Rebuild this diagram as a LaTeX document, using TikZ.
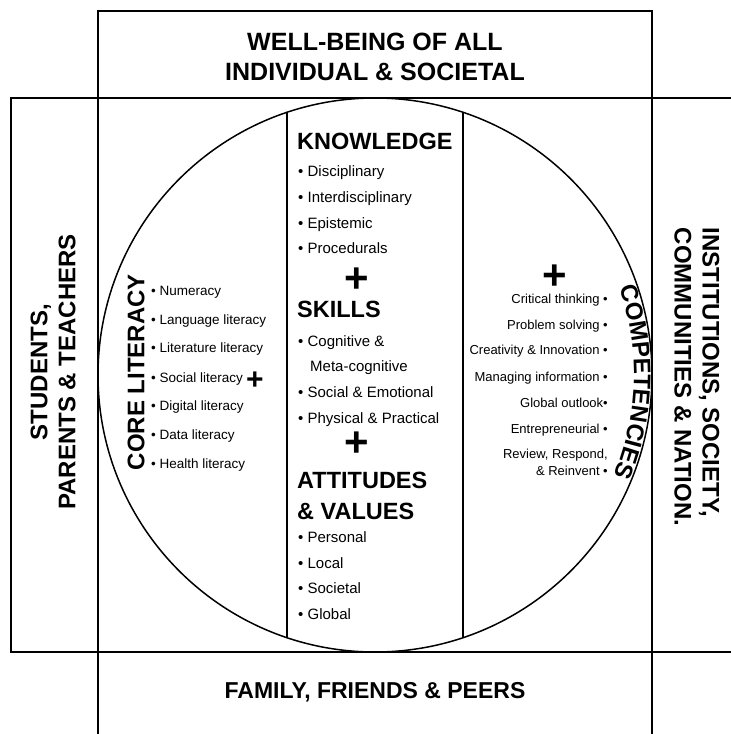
\documentclass[tikz,border=0pt]{standalone}
\usepackage{fontspec}
\setmainfont{Liberation Sans}
\usetikzlibrary{calc,decorations.text}
\tikzset{
	frameline/.style={line width=1.5pt},
	heading/.style={font=\fontsize{24}{28}\selectfont\bfseries, inner sep=0pt, align=center},
	coltitle/.style={font=\fontsize{23.5}{28}\selectfont\bfseries, inner sep=0pt, anchor=base west},
	midpoint/.style={font=\fontsize{15}{18}\selectfont, inner sep=0pt, anchor=base west},
	litpoint/.style={font=\fontsize{13.5}{16}\selectfont, inner sep=0pt, anchor=base west},
	comppoint/.style={font=\fontsize{13}{16}\selectfont, inner sep=0pt, anchor=base east},
	plussign/.style={font=\fontsize{42}{42}\selectfont\bfseries, inner sep=0pt}
}
\begin{document}
\begin{tikzpicture}[x=1pt, y=1pt]
		%%%%% START %%%%%
		\useasboundingbox (0,0) rectangle (731,-734);
		\fill[white] (0,0) rectangle (731,-734);
		
		\draw[frameline] (98,-11) rectangle (652,-98);
		\draw[frameline] (11,-98) rectangle (745,-652);
		\draw[frameline] (98,-652) rectangle (652,-750);
		\draw[frameline] (98,-98) -- (98,-652);
		\draw[frameline] (652,-98) -- (652,-652);
		
		\coordinate (hub) at (375,-375);
		\draw[frameline] (hub) circle (277);
		\draw[frameline] (287,-112.4) -- (287,-637.6);
		\draw[frameline] (463,-112.4) -- (463,-637.6);
		
		\node[heading, font=\fontsize{25}{30}\selectfont\bfseries] (wellbeing) at (375,-57) {WELL-BEING OF ALL\\INDIVIDUAL \& SOCIETAL};
		\node[heading, rotate=90] (students) at (53,-372) {STUDENTS,\\PARENTS \& TEACHERS};
		\node[heading, rotate=-90, align=left] (institutions) at (697,-377) {INSTITUTIONS, SOCIETY,\\COMMUNITIES \& NATION.};
		\node[heading, font=\fontsize{23}{28}\selectfont\bfseries] (family) at (375,-692) {FAMILY, FRIENDS \& PEERS};
		
		\node[heading, rotate=90] (coreliteracy) at (136,-372) {CORE LITERACY};
		\node[litpoint] (numeracy) at (151,-295) {• Numeracy};
		\node[litpoint] (language) at (151,-324) {• Language literacy};
		\node[litpoint] (literature) at (151,-352) {• Literature literacy};
		\node[litpoint] (social) at (151,-382) {• Social literacy};
		\node[litpoint] (digital) at (151,-410) {• Digital literacy};
		\node[litpoint] (data) at (151,-439) {• Data literacy};
		\node[litpoint] (health) at (151,-468) {• Health literacy};
		\node[plussign, font=\fontsize{30}{30}\selectfont\bfseries] (plusleft) at (255,-381) {+};
		
		\node[coltitle] (knowledge) at (297,-149) {KNOWLEDGE};
		\node[midpoint] (disciplinary) at (298,-176) {• Disciplinary};
		\node[midpoint] (interdisc) at (298,-202) {• Interdisciplinary};
		\node[midpoint] (epistemic) at (298,-228) {• Epistemic};
		\node[midpoint] (procedurals) at (298,-253) {• Procedurals};
		\node[plussign] (plusone) at (357,-280) {+};
		\node[coltitle] (skills) at (297,-317) {SKILLS};
		\node[midpoint] (cognitive) at (298,-346) {• Cognitive \&};
		\node[midpoint] (metacog) at (310,-371) {Meta-cognitive};
		\node[midpoint] (emotional) at (298,-397) {• Social \& Emotional};
		\node[midpoint] (practical) at (298,-423) {• Physical \& Practical};
		\node[plussign] (plustwo) at (357,-444) {+};
		\node[coltitle] (attitudes) at (297,-488) {ATTITUDES};
		\node[coltitle] (values) at (297,-519) {\& VALUES};
		\node[midpoint] (personal) at (298,-542) {• Personal};
		\node[midpoint] (local) at (298,-568) {• Local};
		\node[midpoint] (societal) at (298,-593) {• Societal};
		\node[midpoint] (global) at (298,-619) {• Global};
		
		\node[plussign] (plusright) at (555,-277) {+};
		\node[comppoint] (critical) at (608,-303) {Critical thinking •};
		\node[comppoint] (problem) at (608,-329) {Problem solving •};
		\node[comppoint] (creativity) at (608,-354) {Creativity \& Innovation •};
		\node[comppoint] (managing) at (608,-381) {Managing information •};
		\node[comppoint] (outlook) at (608,-407) {Global outlook•};
		\node[comppoint] (entrepreneur) at (608,-433) {Entrepreneurial •};
		\node[comppoint] (review) at (608,-458) {Review, Respond,};
		\node[comppoint] (reinvent) at (608,-475) {\& Reinvent •};
		\path[decorate, decoration={text along path, text align=center,
			text={|\fontsize{24}{24}\selectfont\bfseries|COMPETENCIES}}]
			($(hub)+(28.4:259)$) arc (28.4:-31.6:259);
		
		%%%%% END %%%%%
	\end{tikzpicture}
\end{document}
